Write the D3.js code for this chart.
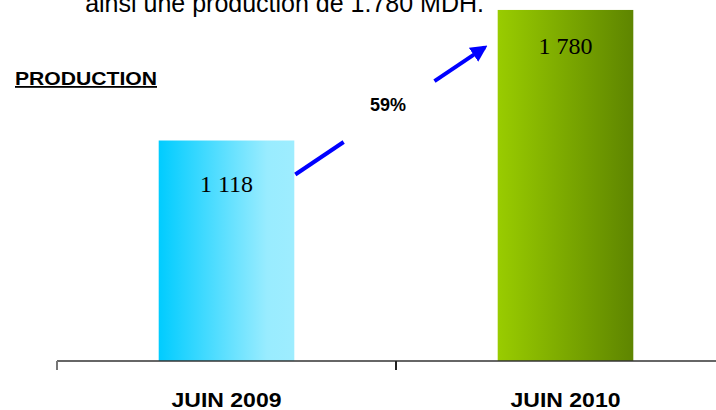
<!DOCTYPE html>
<html>
<head>
<meta charset="utf-8">
<script src="https://cdn.jsdelivr.net/npm/d3@7"></script>
<style>
  body { margin: 0; background: #fff; }
  svg { display: block; }
  text { font-family: Arial, "Liberation Sans", sans-serif; }
</style>
</head>
<body>
<svg id="chart"></svg>
<script>
// chart data
var categories = ["JUIN 2009", "JUIN 2010"];
var values = [1118, 1780];
var valueLabels = ["1 118", "1 780"];
var title = "PRODUCTION";
var headerText = "ainsi une production de 1.780 MDH.";

var width = 716, height = 410;

var svg = d3.select("#chart")
	.attr("width", width)
	.attr("height", height);

var x = d3.scaleBand()
	.domain(categories)
	.range([57, 735])
	.paddingInner(0.6)
	.paddingOuter(0.3);

var y = d3.scaleLinear()
	.domain([0, 1800])
	.range([361, 6]);

// gradients for the two bars
var defs = svg.append("defs");
var grads = [
	[["0%", "#00ccff"], ["80%", "#99ecff"], ["100%", "#9eedff"]],
	[["0%", "#99cc00"], ["100%", "#5e8500"]]
];
grads.forEach(function (stops, i) {
	var g = defs.append("linearGradient")
		.attr("id", "grad" + i)
		.attr("x1", "0%").attr("x2", "100%")
		.attr("y1", "0%").attr("y2", "0%");
	stops.forEach(function (s) {
		g.append("stop").attr("offset", s[0]).attr("stop-color", s[1]);
	});
});

defs.append("marker")
	.attr("id", "arrowhead")
	.attr("viewBox", "0 0 10 10")
	.attr("refX", 8).attr("refY", 5)
	.attr("markerWidth", 4.2).attr("markerHeight", 4.2)
	.attr("markerUnits", "strokeWidth")
	.attr("orient", "auto")
	.append("path")
	.attr("d", "M0,0 L10,5 L0,10 z")
	.attr("fill", "#0000ff");

// header sentence (cut at top of the slide)
svg.append("text")
	.attr("x", 484)
	.attr("y", 12)
	.attr("text-anchor", "end")
	.style("font-size", "25px")
	.style("fill", "#000")
	.text(headerText);

// bars
svg.selectAll("rect.bar")
	.data(values)
	.enter().append("rect")
	.attr("class", "bar")
	.attr("x", function (d, i) { return x(categories[i]); })
	.attr("y", function (d) { return y(d); })
	.attr("width", x.bandwidth())
	.attr("height", function (d) { return y(0) - y(d); })
	.attr("fill", function (d, i) { return "url(#grad" + i + ")"; });

// value labels inside bars
svg.selectAll("text.val")
	.data(values)
	.enter().append("text")
	.attr("class", "val")
	.attr("x", function (d, i) { return x(categories[i]) + x.bandwidth() / 2; })
	.attr("y", function (d, i) { return y(d) + (i == 0 ? 51 : 44); })
	.attr("text-anchor", "middle")
	.style("font-family", "'Liberation Serif', 'Times New Roman', serif")
	.style("font-size", "24px")
	.style("fill", "#000")
	.text(function (d, i) { return valueLabels[i]; });

// axis: baseline and ticks between categories
var step = x.step();
svg.append("line")
	.attr("x1", x.range()[0]).attr("x2", x.range()[1])
	.attr("y1", y(0)).attr("y2", y(0))
	.attr("stroke", "#333").attr("stroke-width", 1.5);

svg.selectAll("line.tick")
	.data(categories)
	.enter().append("line")
	.attr("class", "tick")
	.attr("x1", function (d) { return x(d) - step * x.paddingInner() / 2; })
	.attr("x2", function (d) { return x(d) - step * x.paddingInner() / 2; })
	.attr("y1", y(0)).attr("y2", y(0) + 9)
	.attr("stroke", function (d, i) { return i == 0 ? "#777" : "#222"; })
	.attr("stroke-width", 2);

svg.selectAll("text.cat")
	.data(categories)
	.enter().append("text")
	.attr("class", "cat")
	.attr("x", function (d) { return x(d) + x.bandwidth() / 2; })
	.attr("y", y(0) + 46)
	.attr("text-anchor", "middle")
	.attr("textLength", 110)
	.attr("lengthAdjust", "spacingAndGlyphs")
	.style("font-size", "20px")
	.style("font-weight", "bold")
	.style("fill", "#000")
	.text(function (d) { return d; });

// title
svg.append("text")
	.attr("x", 15)
	.attr("y", 85)
	.attr("textLength", 142)
	.attr("lengthAdjust", "spacingAndGlyphs")
	.style("font-size", "18px")
	.style("font-weight", "bold")
	.style("text-decoration", "underline")
	.style("fill", "#000")
	.text(title);

// growth arrow from bar 1 to bar 2, with gap for the percentage
var p0 = [x(categories[0]) + x.bandwidth() + 1, y(values[0]) + 34];
var p1 = [x(categories[1]) - 5, y(values[1]) + 32];
function lerp(t) { return [p0[0] + (p1[0] - p0[0]) * t, p0[1] + (p1[1] - p0[1]) * t]; }
var a = lerp(0.245), b = lerp(0.705);

svg.append("line")
	.attr("x1", p0[0]).attr("y1", p0[1])
	.attr("x2", a[0]).attr("y2", a[1])
	.attr("stroke", "#0000ff").attr("stroke-width", 4);

svg.append("line")
	.attr("x1", b[0]).attr("y1", b[1])
	.attr("x2", p1[0] - 8).attr("y2", p1[1] + 5.4)
	.attr("stroke", "#0000ff").attr("stroke-width", 4)
	.attr("marker-end", "url(#arrowhead)");

var growth = Math.round((values[1] / values[0] - 1) * 100);
var mid = lerp(0.5);
svg.append("text")
	.attr("x", mid[0] - 6)
	.attr("y", mid[1] + 3)
	.attr("text-anchor", "middle")
	.style("font-size", "18px")
	.style("font-weight", "bold")
	.style("fill", "#000")
	.text(growth + "%");
</script>
</body>
</html>
